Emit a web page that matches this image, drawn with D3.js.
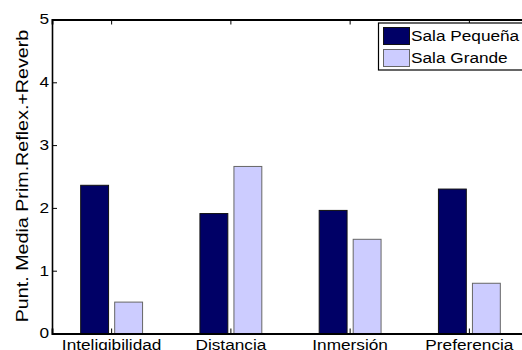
<!DOCTYPE html>
<html>
<head>
<meta charset="utf-8">
<script src="https://cdn.jsdelivr.net/npm/d3@7"></script>
<style>
  html, body { margin: 0; padding: 0; background: #fff; }
  svg { display: block; font-family: "Liberation Sans", Arial, sans-serif; }
</style>
</head>
<body>
<svg id="chart" width="522" height="350"></svg>
<script>
// Mean scores per attribute, small vs. large room
const categories = ["Inteligibilidad", "Distancia", "Inmersión", "Preferencia"];
const seriesNames = ["Sala Pequeña", "Sala Grande"];
const salaPequena = [2.36, 1.91, 1.96, 2.30];
const salaGrande = [0.50, 2.66, 1.50, 0.80];
const yTicks = [0, 1, 2, 3, 4, 5];
const yLabel = "Punt. Media Prim.Reflex.+Reverb";

const colors = ["#000066", "#ccccff"];
const edges = ["#111111", "#666666"];
const FONT = "Liberation Sans, Arial, sans-serif";
const WIDEN = 1.23; // glyphs are drawn slightly wide

const data = categories.map((c, i) => ({
  category: c,
  values: [salaPequena[i], salaGrande[i]]
}));

const svg = d3.select("#chart");
const plotLeft = 52, plotRight = 529, plotTop = 19.5, plotBottom = 333.5;

const x = d3.scaleBand().domain(categories).range([plotLeft, plotRight]).padding(0);
const xSub = d3.scaleBand().domain(seriesNames)
  .range([-34, 34]).paddingInner(0.18).paddingOuter(0.09);
const y = d3.scaleLinear().domain([0, 5]).range([plotBottom, plotTop]);

// Bars
const groups = svg.append("g").selectAll("g")
  .data(data).join("g")
  .attr("transform", d => `translate(${x(d.category) + x.bandwidth() / 2},0)`);

groups.selectAll("rect")
  .data(d => d.values.map((v, j) => ({ name: seriesNames[j], value: v, j })))
  .join("rect")
  .attr("x", d => xSub(d.name))
  .attr("width", xSub.bandwidth())
  .attr("y", d => y(d.value))
  .attr("height", d => y(0) - y(d.value))
  .attr("fill", d => colors[d.j])
  .attr("stroke", d => edges[d.j])
  .attr("stroke-width", 1);

// Left axis with inward ticks
const yAxis = d3.axisLeft(y).tickValues(yTicks).tickSize(-5).tickPadding(3)
  .tickFormat(d3.format("d"));
const gy = svg.append("g").attr("transform", `translate(${plotLeft},0)`).call(yAxis);
gy.select(".domain").attr("stroke", "#000").attr("stroke-width", 1.6);
gy.selectAll(".tick line").attr("stroke", "#000");
gy.selectAll(".tick text").attr("font-size", 14).attr("fill", "#000")
  .attr("font-family", FONT);

// Bottom axis with inward ticks
const xAxis = d3.axisBottom(x).tickSize(-5).tickPadding(7);
const gx = svg.append("g").attr("transform", `translate(0,${plotBottom})`).call(xAxis);
gx.select(".domain").attr("stroke", "#000").attr("stroke-width", 1.8);
gx.selectAll(".tick line").attr("stroke", "#000");
gx.selectAll(".tick text").attr("font-size", 14).attr("fill", "#000")
  .attr("font-family", FONT)
  .attr("dy", "0.71em");

// Top axis (box) with inward ticks
const xTop = d3.axisTop(x).tickSize(-5).tickFormat("");
const gt = svg.append("g").attr("transform", `translate(0,${plotTop})`).call(xTop);
gt.select(".domain").attr("stroke", "#000").attr("stroke-width", 1.8);
gt.selectAll(".tick line").attr("stroke", "#000");

// Y axis title
svg.append("text")
  .attr("class", "wide")
  .attr("transform", `translate(28.3,${(plotTop + plotBottom) / 2 - 0.5}) rotate(-90)`)
  .attr("text-anchor", "middle")
  .attr("font-size", 16)
  .text(yLabel);

// Legend
const lg = svg.append("g").attr("transform", "translate(378.5,23)");
lg.append("rect").attr("x", 0).attr("y", 0).attr("width", 160).attr("height", 47)
  .attr("fill", "#fff").attr("stroke", "#000").attr("stroke-width", 1.2);
seriesNames.forEach((name, i) => {
  const row = lg.append("g").attr("transform", `translate(5,${4.5 + i * 22})`);
  row.append("rect").attr("width", 26).attr("height", 17)
    .attr("fill", colors[i]).attr("stroke", edges[i]);
  row.append("text").attr("x", 27.5).attr("y", 8.5).attr("dy", "0.36em")
    .attr("font-size", 14).text(name);
});

// Widen every label horizontally along its baseline
svg.selectAll("text").each(function () {
  const w = this.getComputedTextLength();
  if (w > 0) {
    d3.select(this)
      .attr("textLength", w * WIDEN)
      .attr("lengthAdjust", "spacingAndGlyphs");
  }
});
</script>
</body>
</html>
